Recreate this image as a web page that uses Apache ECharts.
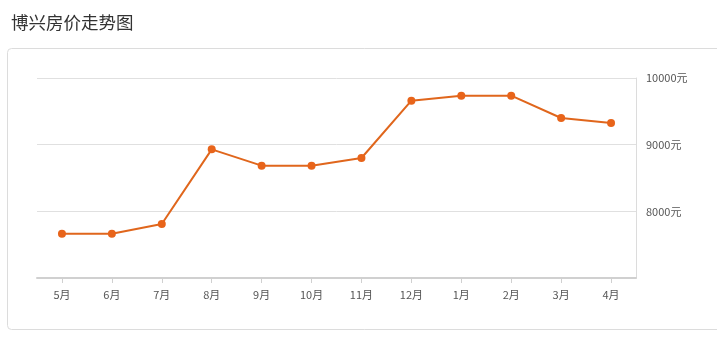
<!DOCTYPE html>
<html>
<head>
<meta charset="utf-8">
<script src="https://cdn.jsdelivr.net/npm/echarts@6/dist/echarts.min.js"></script>
<style>
html,body{margin:0;padding:0;background:#fff;}
#c{width:717px;height:353px;}
</style>
</head>
<body>
<div id="c"></div>
<script>
var categories = ['5月','6月','7月','8月','9月','10月','11月','12月','1月','2月','3月','4月'];
var prices = [7665, 7665, 7810, 8930, 8685, 8685, 8800, 9660, 9735, 9735, 9400, 9325];
var yTicks = {min: 7000, max: 10000, interval: 1000};

var chart = echarts.init(document.getElementById('c'));
chart.setOption({
  animation: false,
  title: {
    text: '博兴房价走势图',
    left: 6, top: 9,
    textStyle: {fontFamily: 'Noto Sans CJK SC', fontSize: 17.5, fontWeight: 'normal', color: '#333'}
  },
  graphic: [{
    type: 'rect',
    shape: {x: 7.5, y: 48.5, width: 720, height: 281, r: 4},
    style: {fill: '#fff', stroke: '#dcdcdc', lineWidth: 1},
    z: -10, silent: true
  }],
  grid: {left: 37, right: 81, top: 78, bottom: 75},
  xAxis: {
    type: 'category',
    data: categories,
    boundaryGap: true,
    axisLine: {show: true, lineStyle: {color: '#d0d0d0', width: 2}},
    axisTick: {show: true, alignWithLabel: true, length: 5, lineStyle: {color: '#d0d0d0'}},
    axisLabel: {margin: 11, color: '#555', fontSize: 11, fontFamily: 'Noto Sans CJK SC'},
    splitLine: {show: false}
  },
  yAxis: {
    type: 'value',
    position: 'right',
    min: yTicks.min, max: yTicks.max, interval: yTicks.interval,
    axisLine: {show: true, lineStyle: {color: '#dcdcdc', width: 1}},
    axisTick: {show: false},
    axisLabel: {
      showMinLabel: false, margin: 10, color: '#555', fontSize: 11,
      fontFamily: 'Noto Sans CJK SC',
      formatter: function (v) { return v + '元'; }
    },
    splitLine: {show: true, lineStyle: {color: '#e0e0e0', width: 1}}
  },
  series: [{
    type: 'line',
    data: prices,
    symbol: 'circle',
    symbolSize: 8,
    lineStyle: {color: '#e0661c', width: 2},
    itemStyle: {color: '#e8641a'}
  }]
});
</script>
</body>
</html>
